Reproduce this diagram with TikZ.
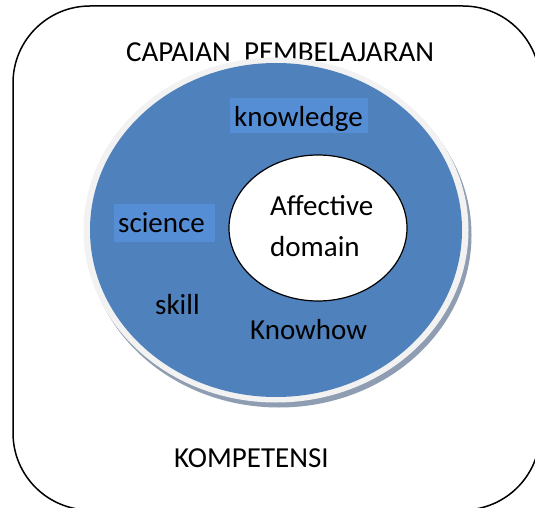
\documentclass[tikz,border=0pt]{standalone}
\usepackage{fontspec}
\setmainfont{Carlito}
\definecolor{ringblue}{HTML}{4F81BD}
\definecolor{markblue}{HTML}{558ED5}
\definecolor{ringgray}{HTML}{F2F2F2}
\definecolor{shadowgray}{HTML}{8E9DB1}

\begin{document}
\begin{tikzpicture}[x=1pt,y=-1pt,
	txt/.style={anchor=base west,inner sep=0pt,font=\fontsize{29pt}{35pt}\selectfont},
	hilite/.style={txt,fill=markblue,inner xsep=4pt,inner ysep=0pt,text height=28pt}]
	\useasboundingbox (0,0) rectangle (535,508);
	\clip (0,0) rectangle (535,508);
	\draw[line width=1.5pt,rounded corners=77pt] (13,6) rectangle (540,510);
	\node[txt] (capaian) at (126,62) {CAPAIAN\ \ PEMBELAJARAN};
	\fill[shadowgray] (279,235) ellipse [x radius=192.5pt,y radius=172.5pt];
	\fill[ringgray] (276,230) ellipse [x radius=192.5pt,y radius=172.5pt];
	\fill[ringblue] (276,230) ellipse [x radius=186pt,y radius=167pt];
	\draw[line width=1.2pt,fill=white] (318,228) ellipse [x radius=89pt,y radius=73pt];
	\node[hilite,text width=130pt,text depth=7pt] (knowledge) at (230,126) {knowledge};
	\node[hilite,text width=93pt,text depth=10pt] (science) at (114,232) {science};
	\node[txt] (affective) at (270,215) {Affective};
	\node[txt] (domain) at (270,256) {domain};
	\node[txt] (skill) at (155,314) {skill};
	\node[txt] (knowhow) at (250,339) {Knowhow};
	\node[txt] (kompetensi) at (174,467) {KOMPETENSI};
\end{tikzpicture}
\end{document}
